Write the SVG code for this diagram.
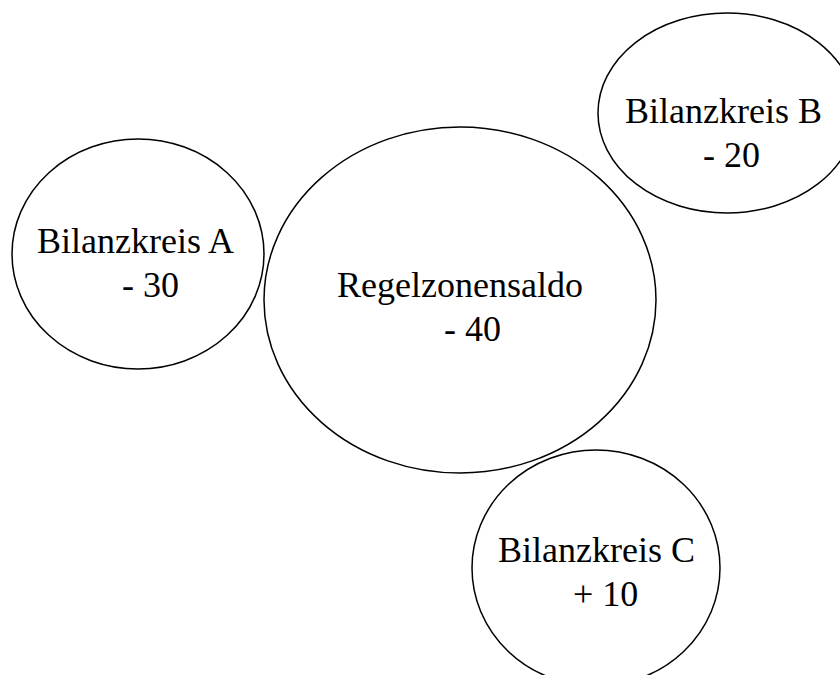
<svg xmlns="http://www.w3.org/2000/svg" width="840" height="675" viewBox="0 0 840 675">
  <style>
    .bubble { fill: none; stroke: #000; stroke-width: 1.5; }
    .label { font-family: "Liberation Serif", "Times New Roman", serif; font-size: 36px; fill: #000; }
  </style>
  <rect width="840" height="675" fill="#fff"/>
  <g id="connectors"/>
  <g id="bilanzkreis-a">
    <ellipse class="bubble" cx="138" cy="254" rx="126" ry="115"/>
    <text class="label" x="37" y="253">Bilanzkreis A</text>
    <text class="label" x="122" y="297">- 30</text>
  </g>
  <g id="regelzonensaldo">
    <ellipse class="bubble" cx="460" cy="300" rx="196" ry="173"/>
    <text class="label" x="337" y="297">Regelzonensaldo</text>
    <text class="label" x="444" y="341">- 40</text>
  </g>
  <g id="bilanzkreis-b">
    <ellipse class="bubble" cx="727" cy="113" rx="129" ry="100"/>
    <text class="label" x="625" y="123">Bilanzkreis B</text>
    <text class="label" x="703" y="167">- 20</text>
  </g>
  <g id="bilanzkreis-c">
    <ellipse class="bubble" cx="596" cy="568" rx="124" ry="118"/>
    <text class="label" x="498" y="562">Bilanzkreis C</text>
    <text class="label" x="573" y="606">+ 10</text>
  </g>
</svg>
